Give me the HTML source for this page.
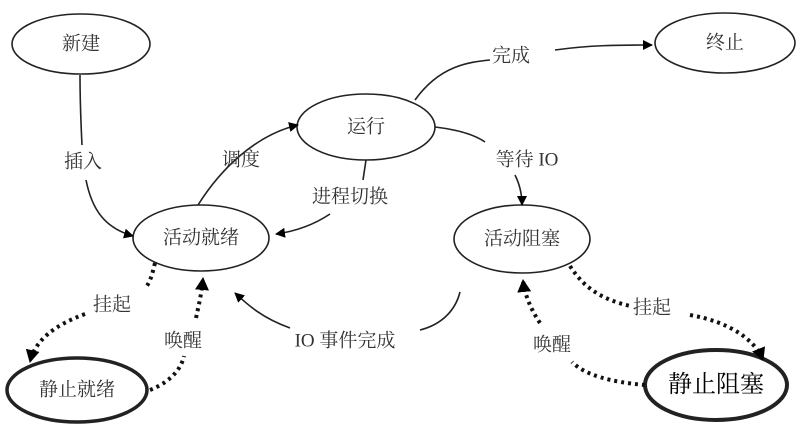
<!DOCTYPE html>
<html><head><meta charset="utf-8"><style>
html,body{margin:0;padding:0;background:#fff;}
svg{display:block;}
text{font-family:"Liberation Serif","Noto Serif CJK SC","Noto Sans CJK SC",serif;font-size:19px;fill:#333;text-anchor:middle;dominant-baseline:central;}
</style></head><body>
<svg width="806" height="434" viewBox="0 0 806 434" xmlns="http://www.w3.org/2000/svg">
<defs>
<marker id="a" markerWidth="10" markerHeight="10" refX="9" refY="5" orient="auto" markerUnits="userSpaceOnUse"><path d="M0,0 L10,5 L0,10 z" fill="#000"/></marker>
<marker id="b" markerWidth="14" markerHeight="14" refX="12" refY="7" orient="auto" markerUnits="userSpaceOnUse"><path d="M0,0 L13,7 L0,14 z" fill="#000"/></marker>
</defs>
<g fill="#fff" stroke="#222" stroke-width="1.6">
<ellipse cx="81" cy="44" rx="69" ry="30"/>
<ellipse cx="725" cy="43" rx="70" ry="30"/>
<ellipse cx="366" cy="127" rx="69" ry="33"/>
<ellipse cx="201" cy="238" rx="68" ry="33"/>
<ellipse cx="522" cy="239" rx="68" ry="34"/>
<ellipse cx="77" cy="390" rx="70" ry="32" stroke-width="3.5"/>
<ellipse cx="716" cy="385" rx="71" ry="35" stroke-width="4"/>
</g>
<g fill="none" stroke="#222" stroke-width="1.6">
<path d="M80,75 C80,105 81,125 82,145 M86,180 C92,210 105,228 133,236" marker-end="url(#a)"/>
<path d="M198,205 C220,170 255,135 298,125" marker-end="url(#a)"/>
<path d="M366,160 L363,180 M330,214 C315,224 298,231 276,234" marker-end="url(#a)"/>
<path d="M415,100 C440,65 470,62 490,60 M555,50 C590,45 620,45 652,45" marker-end="url(#a)"/>
<path d="M435,127 C460,130 475,135 485,142 M515,175 C520,185 522,195 522,205" marker-end="url(#a)"/>
<path d="M460,292 C455,312 440,325 420,330 M290,328 C262,318 248,305 235,293" marker-end="url(#a)"/>
</g>
<g fill="none" stroke="#111" stroke-width="4" stroke-dasharray="3,4">
<path d="M155,263 C152,275 150,283 145,288 M85,314 C55,325 35,340 30,362" marker-end="url(#b)"/>
<path d="M150,390 C175,380 182,365 184,356 M196,318 C200,300 202,290 203,278" marker-end="url(#b)"/>
<path d="M570,266 C585,290 605,300 630,306 M690,315 C730,322 755,340 763,360" marker-end="url(#b)"/>
<path d="M645,385 C610,382 585,375 572,362 M540,323 C528,305 524,290 523,280" marker-end="url(#b)"/>
</g>
<text x="81" y="44">新建</text>
<text x="725" y="43">终止</text>
<text x="366" y="127">运行</text>
<text x="201" y="238">活动就绪</text>
<text x="522" y="239">活动阻塞</text>
<text x="77" y="390">静止就绪</text>
<text x="716" y="385" style="font-size:24px;fill:#000">静止阻塞</text>
<text x="83" y="162">插入</text>
<text x="241" y="160">调度</text>
<text x="350" y="197">进程切换</text>
<text x="511" y="56">完成</text>
<text x="527" y="160">等待 IO</text>
<text x="112" y="305">挂起</text>
<text x="183" y="341">唤醒</text>
<text x="345" y="341">IO 事件完成</text>
<text x="552" y="345">唤醒</text>
<text x="652" y="308">挂起</text>
</svg>
</body></html>
